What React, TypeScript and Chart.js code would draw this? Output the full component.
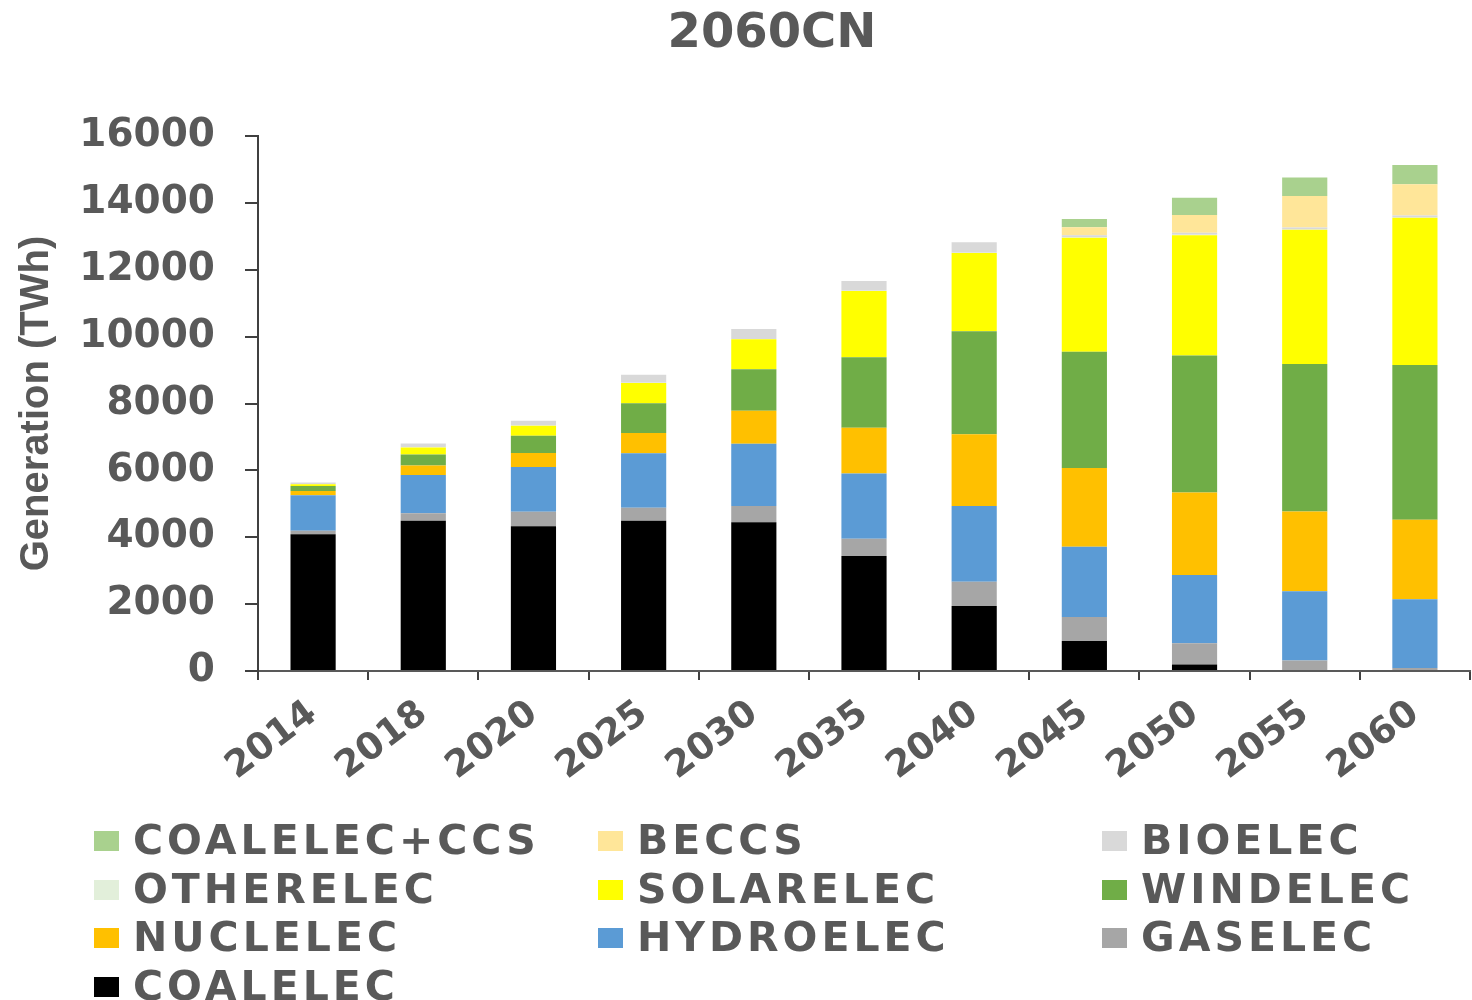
import React, { useEffect, useRef } from "react";
import { Chart, registerables } from "chart.js";

Chart.register(...registerables);

const TITLE = "2060CN";
const Y_TITLE = "Generation (TWh)";
const YEARS = ["2014", "2018", "2020", "2025", "2030", "2035", "2040", "2045", "2050", "2055", "2060"];

const COALELEC = [4090, 4490, 4330, 4495, 4445, 3440, 1945, 900, 195, 0, 0];
const GASELEC = [105, 230, 435, 390, 490, 515, 725, 715, 635, 315, 90];
const HYDROELEC = [1060, 1145, 1335, 1625, 1865, 1955, 2265, 2100, 2040, 2070, 2055];
const NUCLELEC = [130, 280, 420, 605, 980, 1365, 2145, 2355, 2465, 2385, 2375];
const WINDELEC = [150, 330, 515, 890, 1245, 2105, 3080, 3480, 4100, 4410, 4630];
const SOLARELEC = [50, 210, 300, 605, 895, 1985, 2340, 3410, 3600, 4015, 4405];
const OTHERELEC = [10, 10, 10, 10, 10, 10, 10, 10, 10, 10, 10];
const BIOELEC = [40, 110, 140, 240, 300, 290, 310, 60, 60, 60, 60];
const BECCS = [0, 0, 0, 0, 0, 0, 0, 240, 535, 940, 930];
const COALELEC_CCS = [0, 0, 0, 0, 0, 0, 0, 250, 515, 555, 575];

const SERIES_NAMES = ["COALELEC", "GASELEC", "HYDROELEC", "NUCLELEC", "WINDELEC", "SOLARELEC", "OTHERELEC", "BIOELEC", "BECCS", "COALELEC+CCS"];
const SERIES_VALUES = [COALELEC, GASELEC, HYDROELEC, NUCLELEC, WINDELEC, SOLARELEC, OTHERELEC, BIOELEC, BECCS, COALELEC_CCS];
const SERIES_COLORS = ["#000000", "#A6A6A6", "#5B9BD5", "#FFC000", "#70AD47", "#FFFF00", "#E2EFDA", "#D9D9D9", "#FFE699", "#A9D18E"];

// legend order (as shown, row by row in 3 columns)
const LEGEND_ORDER = ["COALELEC+CCS", "BECCS", "BIOELEC", "OTHERELEC", "SOLARELEC", "WINDELEC", "NUCLELEC", "HYDROELEC", "GASELEC", "COALELEC"];

const TEXT_COLOR = "#595959";
const BOLD_FONT = "'DejaVu Sans'";

export default function App() {
  const canvasRef = useRef<HTMLCanvasElement | null>(null);

  useEffect(() => {
    if (!canvasRef.current) return;
    const titlePlugin = {
      id: "customTitle",
      afterDraw(chart: any) {
        const ctx = chart.ctx;
        ctx.save();
        ctx.font = `bold 48px ${BOLD_FONT}`;
        ctx.fillStyle = TEXT_COLOR;
        ctx.textAlign = "center";
        ctx.textBaseline = "alphabetic";
        ctx.fillText(TITLE, 772, 47);
        ctx.restore();
      },
    };
    const chart = new Chart(canvasRef.current, {
      type: "bar",
      data: {
        labels: YEARS,
        datasets: SERIES_NAMES.map((name, i) => ({
          label: name,
          data: SERIES_VALUES[i],
          backgroundColor: SERIES_COLORS[i],
          borderWidth: 0,
          barPercentage: 0.41,
          categoryPercentage: 1.0,
        })),
      },
      options: {
        responsive: false,
        animation: false,
        layout: { padding: { top: 136, right: 2, left: 0, bottom: 0 } },
        plugins: {
          legend: { display: false },
          title: { display: false },
          tooltip: { enabled: false },
        },
        scales: {
          x: {
            stacked: true,
            afterFit: (scale: any) => {
              scale.height = 329;
            },
            border: { display: true, color: "#595959", width: 2 },
            grid: {
              display: true,
              offset: true,
              drawOnChartArea: false,
              drawTicks: true,
              tickLength: 9,
              color: "#404040",
              lineWidth: 2,
            },
            ticks: {
              autoSkip: false,
              minRotation: 37,
              maxRotation: 37,
              padding: 12,
              color: TEXT_COLOR,
              font: { family: BOLD_FONT, size: 37, weight: "bold" },
            },
          },
          y: {
            stacked: true,
            min: 0,
            max: 16000,
            afterFit: (scale: any) => {
              scale.width = 258;
            },
            border: { display: true, color: "#404040", width: 2 },
            grid: {
              display: true,
              drawOnChartArea: false,
              drawTicks: true,
              tickLength: 13,
              color: "#404040",
              lineWidth: 2,
            },
            ticks: {
              stepSize: 2000,
              padding: 30,
              color: TEXT_COLOR,
              font: { family: BOLD_FONT, size: 39, weight: "bold" },
              callback: (v: any) => String(v),
            },
            title: {
              display: true,
              text: Y_TITLE,
              color: TEXT_COLOR,
              font: { family: "'Liberation Sans'", size: 40, weight: "bold" },
              padding: { top: 13, bottom: 0 },
            },
          },
        },
      },
      plugins: [titlePlugin],
    });
    return () => chart.destroy();
  }, []);

  const colX = [94, 598, 1102];
  return (
    <div style={{ position: "absolute", left: 0, top: 0, width: 1472, height: 1000, background: "#ffffff" }}>
      <canvas ref={canvasRef} width={1472} height={1000} style={{ position: "absolute", left: 0, top: 0 }} />
      {LEGEND_ORDER.map((name, k) => {
        const row = Math.floor(k / 3);
        const col = k % 3;
        const idx = SERIES_NAMES.indexOf(name);
        return (
          <div key={name}>
            <div
              style={{
                position: "absolute",
                left: colX[col],
                top: 831 + row * 48.6,
                width: 25,
                height: 20,
                background: SERIES_COLORS[idx],
              }}
            />
            <div
              style={{
                position: "absolute",
                left: colX[col] + 39,
                top: 816 + row * 48.6,
                height: 48,
                lineHeight: "48px",
                fontFamily: BOLD_FONT,
                fontWeight: "bold",
                fontSize: 41,
                letterSpacing: "4px",
                color: TEXT_COLOR,
                whiteSpace: "nowrap",
              }}
            >
              {name}
            </div>
          </div>
        );
      })}
    </div>
  );
}
